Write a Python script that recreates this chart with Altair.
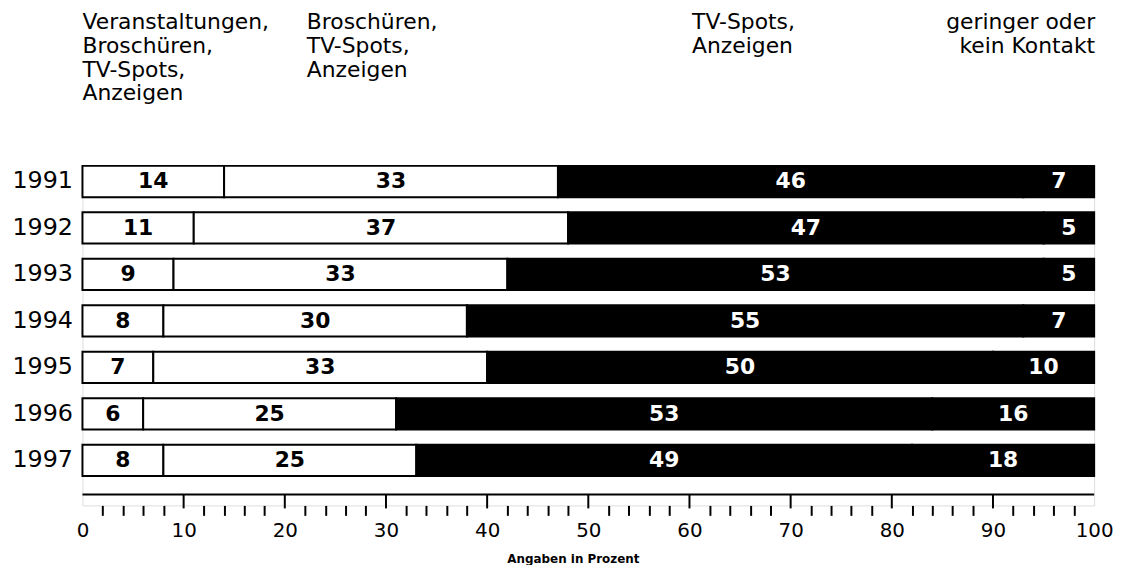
import altair as alt
import pandas as pd

# ---- data ----
years = ["1991", "1992", "1993", "1994", "1995", "1996", "1997"]
veranstaltungen = [14, 11, 9, 8, 7, 6, 8]
broschueren = [33, 37, 33, 30, 33, 25, 25]
tv_anzeigen = [46, 47, 53, 55, 50, 53, 49]
kein_kontakt = [7, 5, 5, 7, 10, 16, 18]

categories = [
    "Veranstaltungen, Broschüren, TV-Spots, Anzeigen",
    "Broschüren, TV-Spots, Anzeigen",
    "TV-Spots, Anzeigen",
    "geringer oder kein Kontakt",
]
header_lines = [
    "Veranstaltungen,\nBroschüren,\nTV-Spots,\nAnzeigen",
    "Broschüren,\nTV-Spots,\nAnzeigen",
    "TV-Spots,\nAnzeigen",
    "geringer oder\nkein Kontakt",
]
fills = ["white", "white", "black", "black"]
text_colors = ["black", "black", "white", "white"]
major_ticks = [10, 20, 30, 40, 50, 60, 70, 80, 90]
minor_tick_values = list(range(0, 101, 2))

series = [veranstaltungen, broschueren, tv_anzeigen, kein_kontakt]
rows = []
for ci, (cat, vals) in enumerate(zip(categories, series)):
    for y, v in zip(years, vals):
        rows.append({"year": y, "cat": cat, "order": ci, "value": v,
                     "fillc": fills[ci], "textc": text_colors[ci]})
df = pd.DataFrame(rows)

W, H = 1019, 342
FONT = "DejaVu Sans"
XTITLE = "Angaben in Prozent"

xscale = alt.Scale(domain=[0, 100], nice=False, zero=True)
yscale = alt.Scale(type="band", domain=years, paddingInner=0.327, paddingOuter=0.317, align=0)

xaxis = alt.Axis(
    values=minor_tick_values,
    labelExpr="datum.value % 10 == 0 ? datum.label : ''",
    tickOpacity={"condition": {"test": "datum.value % 10 == 0", "value": 0}, "value": 1},
    tickSize=10,
    tickWidth=2,
    tickColor="black",
    domain=False,
    grid=False,
    labelFont=FONT,
    labelFontSize=20,
    labelColor="black",
    labelPadding=5,
    labelFlush=False,
    labelOverlap=False,
    labelBound=False,
    titleFont=FONT,
    titleFontSize=12,
    titleFontWeight="bold",
    titleColor="black",
    titlePadding=13,
    titleX=494,
    titleAlign="center",
)
yaxis = alt.Axis(
    ticks=False,
    domain=False,
    labelFont=FONT,
    labelFontSize=24,
    labelColor="black",
    labelPadding=10,
)

base = alt.Chart(df).transform_stack(
    stack="value", groupby=["year"], as_=["x0", "x1"], sort=[alt.SortField("order")]
).transform_calculate(mid="(datum.x0 + datum.x1) / 2")

bars = base.mark_bar(stroke="black", strokeWidth=2).encode(
    x=alt.X("x0:Q", scale=xscale, title=XTITLE, axis=xaxis),
    x2="x1:Q",
    y=alt.Y("year:N", scale=yscale, title=None, axis=yaxis),
    fill=alt.Fill("fillc:N", scale=None),
)

labels = base.mark_text(font=FONT, fontSize=22, fontWeight="bold", baseline="middle").encode(
    x=alt.X("mid:Q", scale=xscale, title=XTITLE, axis=xaxis),
    y=alt.Y("year:N", scale=yscale, title=None, axis=yaxis),
    text="value:Q",
    fill=alt.Fill("textc:N", scale=None),
)

# horizontal frame line above the axis
frame_line = alt.Chart(pd.DataFrame({"a": [0, 100]})).mark_rule(color="black", strokeWidth=2).encode(
    x=alt.X("min(a):Q", scale=xscale, title=XTITLE, axis=xaxis),
    x2="max(a):Q",
    y=alt.value(331),
)

# major ticks between frame line and axis line
majors = alt.Chart(pd.DataFrame({"t": major_ticks})).mark_rule(color="black", strokeWidth=2).encode(
    x=alt.X("t:Q", scale=xscale, title=XTITLE, axis=xaxis),
    y=alt.value(331),
    y2=alt.value(345),
)

# header labels above the bars
header_x = [0, 226, 614, 1020]
header_align = ["left", "left", "left", "right"]
headers = []
for txt, hx, al in zip(header_lines, header_x, header_align):
    headers.append(
        alt.Chart(pd.DataFrame({"t": [txt]})).mark_text(
            font=FONT, fontSize=22, align=al, baseline="top", lineBreak="\n", lineHeight=24, color="black"
        ).encode(x=alt.value(hx), y=alt.value(-155), text="t:N")
    )

chart = alt.layer(bars, labels, frame_line, majors, *headers).properties(
    width=W,
    height=H,
    padding={"left": 75, "top": 157, "right": 20, "bottom": 58},
    autosize=alt.AutoSizeParams(type="none"),
).configure_view(stroke="black", strokeWidth=2).configure_axis(labelOverlap=False).configure(background="white")

chart.save("out.html", embed_options={"renderer": "svg", "actions": False})
